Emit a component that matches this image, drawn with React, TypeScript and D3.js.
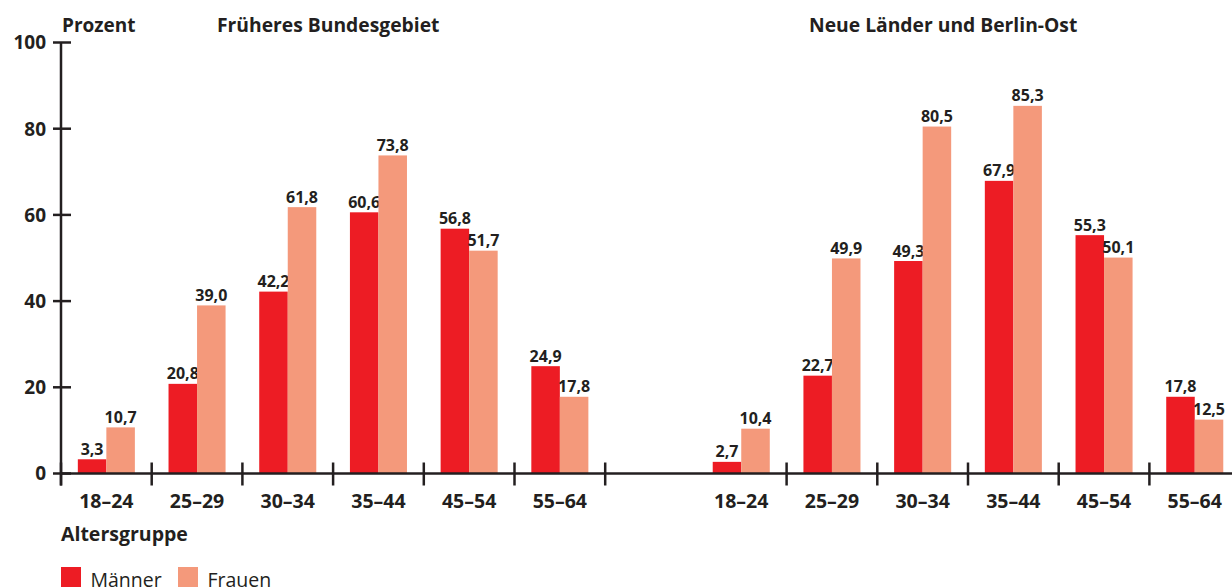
import React from "react";
import * as d3 from "d3";

// Anteil nach Altersgruppe, Geschlecht und Region (Prozent)
const categories = ["18–24", "25–29", "30–34", "35–44", "45–54", "55–64"];
const series = ["Männer", "Frauen"];
const westMen = [3.3, 20.8, 42.2, 60.6, 56.8, 24.9];
const westWomen = [10.7, 39.0, 61.8, 73.8, 51.7, 17.8];
const eastMen = [2.7, 22.7, 49.3, 67.9, 55.3, 17.8];
const eastWomen = [10.4, 49.9, 80.5, 85.3, 50.1, 12.5];
const yTicks = [0, 20, 40, 60, 80, 100];

const W = 1232;
const H = 587;
const INK = "#231f20";
const colors = { Männer: "#ed1c24", Frauen: "#f4997b" };
const FONT = "'Open Sans', 'Noto Sans', sans-serif";

// slots: 6 west groups, an empty gap slot, 6 east groups
const slots = [
  ...categories.map((c) => "W" + c),
  "gap",
  ...categories.map((c) => "O" + c),
];

const rows = [
  ...categories.map((c, i) => ({ slot: "W" + c, label: c, Männer: westMen[i], Frauen: westWomen[i] })),
  ...categories.map((c, i) => ({ slot: "O" + c, label: c, Männer: eastMen[i], Frauen: eastWomen[i] })),
];

const fmt = (v: number) => d3.format(".1f")(v).replace(".", ",");

export default function App() {
  const x0 = d3.scaleBand().domain(slots).range([61, 61 + 13 * 90.7]).padding(0);
  const x1 = d3
    .scaleBand()
    .domain(series)
    .range([0, x0.bandwidth()])
    .paddingInner(0)
    .paddingOuter(0.59);
  const y = d3.scaleLinear().domain([0, 100]).range([473.5, 42.5]);

  // tick marks on group borders (none at the right edge of the gap)
  const borders = slots
    .map((s, i) => ({ s, i, x: x0(s) as number }))
    .filter((d) => slots[d.i - 1] !== "gap")
    .map((d) => d.x);
  borders.push(x0.range()[1]);

  return (
    <svg
      width={W}
      height={H}
      style={{ position: "absolute", left: 0, top: 0, background: "#fff" }}
      fontFamily={FONT}
    >
      {/* bars */}
      {rows.map((r) => (
        <g key={r.slot} transform={`translate(${x0(r.slot)},0)`}>
          {series.map((s) => {
            const v = (r as any)[s] as number;
            return (
              <g key={s}>
                <rect
                  x={x1(s)}
                  y={y(v)}
                  width={x1.bandwidth()}
                  height={y(0) - y(v)}
                  fill={(colors as any)[s]}
                />
                <text
                  x={(x1(s) as number) + x1.bandwidth() / 2}
                  y={y(v) - 4.5}
                  textAnchor="middle"
                  fontSize={16}
                  fontWeight="bold"
                  fill={INK}
                >
                  {fmt(v)}
                </text>
              </g>
            );
          })}
          <text
            x={x0.bandwidth() / 2}
            y={508}
            textAnchor="middle"
            fontSize={19.5}
            fontWeight="bold"
            fill={INK}
          >
            {r.label}
          </text>
        </g>
      ))}

      {/* x axis */}
      <line x1={61} x2={W} y1={y(0)} y2={y(0)} stroke={INK} strokeWidth={2.5} />
      {borders.map((bx, i) => (
        <line key={i} x1={bx} x2={bx} y1={y(0) - 11} y2={y(0) + 12} stroke={INK} strokeWidth={2.5} />
      ))}

      {/* y axis */}
      <line x1={61} x2={61} y1={y(100)} y2={y(0) + 12} stroke={INK} strokeWidth={2.5} />
      {yTicks.map((t) => (
        <g key={t}>
          <line x1={53} x2={71} y1={y(t)} y2={y(t)} stroke={INK} strokeWidth={2.5} />
          <text
            x={46}
            y={y(t)}
            dy="0.36em"
            textAnchor="end"
            fontSize={19}
            fontWeight="bold"
            fill={INK}
          >
            {t}
          </text>
        </g>
      ))}

      {/* titles */}
      <text x={62} y={31.5} fontSize={19} fontWeight="bold" fill={INK}>
        Prozent
      </text>
      <text x={217} y={31.5} fontSize={19.3} fontWeight="bold" fill={INK}>
        Früheres Bundesgebiet
      </text>
      <text x={809} y={31.5} fontSize={19.3} fontWeight="bold" fill={INK}>
        Neue Länder und Berlin-Ost
      </text>
      <text x={61} y={541} fontSize={19.5} fontWeight="bold" fill={INK}>
        Altersgruppe
      </text>

      {/* legend */}
      {series.map((s, i) => (
        <g key={s} transform={`translate(${61 + i * 117},567)`}>
          <rect width={20} height={20} fill={(colors as any)[s]} />
          <text x={29.5} y={20} fontSize={19.5} fill={INK}>
            {s}
          </text>
        </g>
      ))}
    </svg>
  );
}
